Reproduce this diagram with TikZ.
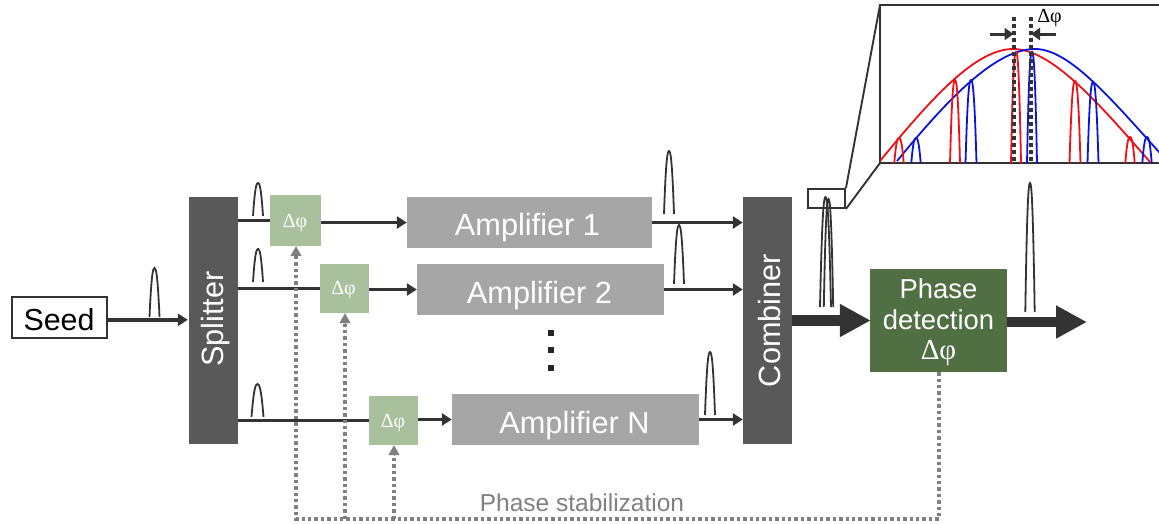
\documentclass[tikz,border=0pt]{standalone}
\usepackage{fontspec}
\setmainfont{Liberation Sans}
\newfontfamily\serf{Liberation Serif}
\usetikzlibrary{arrows.meta}
\newcommand{\pulse}[5][pulseline]{%
  \draw[#1] ({#2-#5},#4) .. controls ({#2-0.62*#5},{#3+0.12*(#4-#3)}) and ({#2-0.3*#5},#3) .. (#2,#3)
    .. controls ({#2+0.3*#5},#3) and ({#2+0.62*#5},{#3+0.12*(#4-#3)}) .. ({#2+#5},#4);}
\newcommand{\fsz}[1]{\fontsize{#1}{#1}\selectfont}
\definecolor{ink}{HTML}{333333}
\definecolor{darkbar}{HTML}{595959}
\definecolor{ampgrey}{HTML}{A6A6A6}
\definecolor{lightgreen}{HTML}{A8C19C}
\definecolor{darkgreen}{HTML}{507043}
\definecolor{fbgrey}{HTML}{808080}
\definecolor{redc}{HTML}{F00F14}
\definecolor{bluec}{HTML}{0A14DC}
\tikzset{
  x=1pt,y=-1pt,
  solidbox/.style={draw=none,inner sep=0pt,text=white,align=center},
  bar/.style={solidbox,fill=darkbar,minimum width=49pt,minimum height=247pt},
  barlabel/.style={text=white,inner sep=0pt,rotate=90,font=\fsz{30.7}},
  amp/.style={solidbox,fill=ampgrey,minimum width=247pt,minimum height=51pt},
  amplabel/.style={text=white,inner sep=0pt,font=\fsz{30.7}},
  shifter/.style={solidbox,fill=lightgreen,minimum width=49pt,minimum height=49pt},
  shiftlabel/.style={text=white,inner sep=0pt,font=\serf\fsz{20}},
  conn/.style={draw=ink,line width=3.4pt,-{Triangle[length=10pt,width=12pt]}},
  plainconn/.style={draw=ink,line width=3.4pt},
  bigconn/.style={draw=ink,line width=10.5pt,-{Triangle[length=31pt,width=31pt]}},
  fb/.style={draw=fbgrey,line width=3.8pt,dash pattern=on 3.4pt off 3pt},
  fbhead/.style={draw=fbgrey,line width=1pt,-{Triangle[length=10pt,width=11pt]}},
  pulseline/.style={draw=ink,line width=1.8pt},
  redline/.style={draw=redc,line width=1.8pt},
  blueline/.style={draw=bluec,line width=1.8pt},
  insetline/.style={draw=ink,line width=1.9pt},
  marker/.style={draw=ink,line width=4pt,dash pattern=on 4pt off 3pt},
  smallarrow/.style={draw=ink,line width=3pt,-{Triangle[length=9pt,width=12pt]}},
}
\begin{document}
\begin{tikzpicture}
\useasboundingbox (0,0) rectangle (1159,523);
% blocks
\node[draw=ink,line width=2pt,inner sep=0pt,minimum width=95pt,minimum height=41pt] (seed) at (59,317.5) {};
\node[text=black,inner sep=0pt,font=\fsz{30.4}] (seedtxt) at (59,319.5) {Seed};
\node[bar] (split) at (213.5,320.5) {};
\node[barlabel] (splittxt) at (216,319) {Splitter};
\node[bar] (comb) at (767.5,320.5) {};
\node[barlabel] (combtxt) at (770,320.5) {Combiner};
\node[shifter,minimum width=51pt,minimum height=51pt] (d1) at (295.5,220.5) {};
\node[shifter] (d2) at (344.5,288.5) {};
\node[shifter] (d3) at (393.5,420.5) {};
\node[shiftlabel] (d1txt) at (295,223) {Δφ};
\node[shiftlabel] (d2txt) at (343.5,290) {Δφ};
\node[shiftlabel] (d3txt) at (393,423) {Δφ};
\node[amp,minimum width=245pt] (a1) at (529.5,222.5) {};
\node[amp] (a2) at (540.5,289.5) {};
\node[amp] (a3) at (575.5,419.5) {};
\node[amplabel] (a1txt) at (527.5,228) {Amplifier 1};
\node[amplabel] (a2txt) at (539.5,296) {Amplifier 2};
\node[amplabel] (a3txt) at (574.5,426) {Amplifier N};
\node[solidbox,fill=darkgreen,minimum width=137pt,minimum height=103pt] (pd) at (938.5,320.5) {};
\node[text=white,inner sep=0pt,font=\fsz{27.4}] (pd1) at (938.5,289) {Phase};
\node[text=white,inner sep=0pt,font=\fsz{27.4}] (pd2) at (938.5,320) {detection};
\node[text=white,inner sep=0pt,font=\serf\fsz{29}] (pd3) at (938.5,353) {Δφ};
% dots
\foreach \yy in {333,350,368}
  \fill[black!85] (548,\yy-3) rectangle (554,\yy+3);
% connectors
\draw[conn,shorten >=1pt] ([yshift=-2.3pt]seed.east) -- ([yshift=-2.3pt]seed.east -| split.west);
\draw[plainconn] (split.east |- d1.west) -- (d1.west);
\draw[plainconn] (split.east |- d2.west) -- (d2.west);
\draw[plainconn] (split.east |- d3.west) -- (d3.west);
\draw[conn] (d1.east |- a1.west) -- (a1.west);
\draw[conn] (d2.east |- a2.west) -- (a2.west);
\draw[conn] (d3.east |- a3.west) -- (a3.west);
\draw[conn] (a1.east) -- (a1.east -| comb.west);
\draw[conn] (a2.east) -- (a2.east -| comb.west);
\draw[conn] (a3.east) -- (a3.east -| comb.west);
\draw[bigconn] (comb.east) -- ([xshift=1pt]pd.west);
\coordinate (outend) at (1087,322);
\draw[bigconn] (pd.east |- outend) -- (outend);
% feedback
\coordinate (bus) at (939,519);
\draw[fb] (pd.south -| bus) -- (bus) -- ([xshift=.5pt]d1.south |- bus) -- ([xshift=.5pt,yshift=-10pt]d1.south);
\draw[fb] ([xshift=.5pt]d2.south |- bus) -- ([xshift=.5pt,yshift=-10pt]d2.south);
\draw[fb] ([xshift=.5pt]d3.south |- bus) -- ([xshift=.5pt,yshift=-10pt]d3.south);
\draw[fbhead] ([xshift=.5pt,yshift=-11pt]d1.south) -- ([xshift=.5pt]d1.south);
\draw[fbhead] ([xshift=.5pt,yshift=-11pt]d2.south) -- ([xshift=.5pt]d2.south);
\draw[fbhead] ([xshift=.5pt,yshift=-11pt]d3.south) -- ([xshift=.5pt]d3.south);
\node[text=fbgrey,inner sep=0pt,font=\fsz{24.5}] (stab) at (582,503) {Phase stabilization};
% pulses
\pulse{154.5}{268}{317}{5}
\pulse{258}{183}{216}{5}
\pulse{258}{249}{282}{5}
\pulse{257.5}{384}{417}{6}
\pulse{669}{151}{214}{5}
\pulse{679}{225}{284}{5}
\pulse{710}{352}{415}{5}
\pulse{825.5}{197}{307}{5.5}
\pulse{828.5}{199}{307}{4.7}
\pulse{1030}{183}{312}{4.7}
% inset frame
\node[draw=ink,line width=1.9pt,inner sep=0pt,minimum width=37pt,minimum height=19pt] (zoombox) at (826.5,198.5) {};
\coordinate (tl) at (880,5);
\coordinate (bl) at (880,163);
\coordinate (tr) at (1159,5);
\coordinate (br) at (1159,163);
\draw[insetline] (tr) -- (tl) -- (bl) -- (br);
\draw[insetline] (zoombox.north east) -- (tl);
\draw[insetline] (zoombox.south east) -- (bl);
\begin{scope}
\clip (880,0) rectangle (1159,163);
\draw[redline] (880,161) .. controls (930,100) and (975,49) .. (1013,49) .. controls (1051,49) and (1096,100) .. (1150,162);
\draw[blueline] (897,161) .. controls (947,100) and (995,49) .. (1035,49) .. controls (1070,49) and (1112,100) .. (1168,162);
\foreach \cx/\tp/\hw in {899/138/4.7,955/80/5,1016/52/5,1075/81/5.5,1130/137/4.7}
  {\pulse[redline]{\cx}{\tp}{163}{\hw}}
\foreach \cx/\tp/\hw in {916/138/4.7,971/80/5.5,1032/52/5,1093/82/5.5,1147/137/4.7}
  {\pulse[blueline]{\cx}{\tp}{163}{\hw}}
\end{scope}
\coordinate (m1t) at (1013.5,17);
\coordinate (m1b) at (1013.5,163);
\coordinate (m2t) at (1031,17);
\coordinate (m2b) at (1031,163);
\draw[marker] (m1t) -- (m1b);
\draw[marker] (m2t) -- (m2b);
\coordinate (al) at (990,34);
\coordinate (ar) at (1056,34);
\draw[smallarrow] (al) -- (al -| m1t);
\draw[smallarrow] (ar) -- (ar -| m2t);
\node[text=black,inner sep=0pt,font=\serf\fsz{20}] (dp) at (1049.5,18) {Δφ};
\end{tikzpicture}
\end{document}
